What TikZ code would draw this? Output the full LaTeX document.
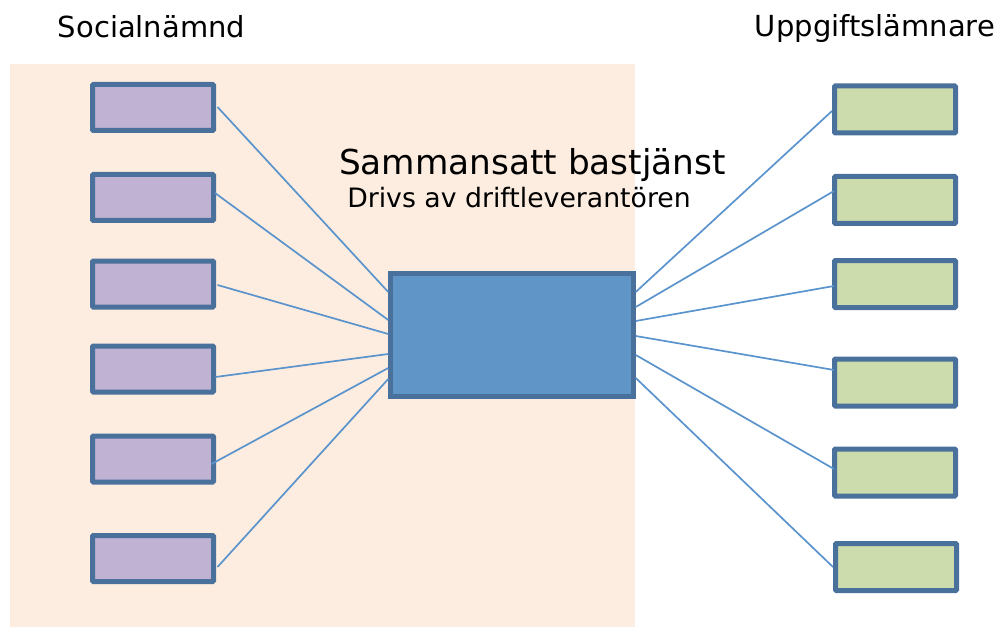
\documentclass[tikz,border=0pt]{standalone}
\usepackage{fontspec}
\setmainfont{DejaVu Sans}
\usepackage{tikz}
\usetikzlibrary{positioning}

\definecolor{peach}{HTML}{FDEDE0}
\definecolor{frameblue}{HTML}{4A709C}
\definecolor{lilac}{HTML}{C0B2D2}
\definecolor{sage}{HTML}{CDDCAC}
\definecolor{hubblue}{HTML}{5F95C7}
\definecolor{wireblue}{HTML}{5B93CC}

\begin{document}
\begin{tikzpicture}[x=1pt,y=-1pt]
\tikzstyle{box}=[draw=frameblue, line width=5pt, rounded corners=1pt, inner sep=0pt,
minimum width=121pt, minimum height=46pt]
\tikzstyle{soc}=[box, fill=lilac]
\tikzstyle{upp}=[box, fill=sage, minimum height=47pt]
\tikzstyle{hub}=[draw=frameblue, line width=4.5pt, fill=hubblue, inner sep=0pt,
minimum width=243pt, minimum height=123pt]
\tikzstyle{wire}=[draw=wireblue, line width=1.7pt]
\tikzstyle{head}=[anchor=base, inner sep=0pt, font=\fontsize{29}{34}\selectfont]

\useasboundingbox (0,0) rectangle (1000,628);
\fill[peach] (10,64) rectangle (635,627);

% titles
\node (socialtitle) [head] at (151.5,38) {Socialnämnd};
\node (upptitle) [head] at (875,37) {Uppgiftslämnare};
\node (hubtitle) [anchor=base, inner sep=0pt, font=\fontsize{34.3}{40}\selectfont] at (532.5,175) {Sammansatt bastjänst};
\node (hubsub) [anchor=base, inner sep=0pt, font=\fontsize{26.7}{32}\selectfont] at (519,208) {Drivs av driftleverantören};

% central service
\node (hub) [hub] at (512,335) {};

% social committees
\node (s1) [soc] at (153,107.5) {};
\node (s2) [soc] at (153,197.5) {};
\node (s3) [soc] at (153,284) {};
\node (s4) [soc] at (153,369) {};
\node (s5) [soc] at (153,459) {};
\node (s6) [soc] at (153,558.5) {};

% data providers
\node (u1) [upp] at (895,109.5) {};
\node (u2) [upp] at (895,200) {};
\node (u3) [upp] at (895,284) {};
\node (u4) [upp] at (895,382.5) {};
\node (u5) [upp] at (895,472.5) {};
\node (u6) [upp] at (896,567) {};

% connectors, left
\path [wire] ([xshift=1.5pt,yshift=0.5pt]s1.east) -- ([yshift=43pt]hub.west);
\path [wire] ([xshift=-1pt,yshift=4.5pt]s2.east) -- ([yshift=15pt]hub.west);
\path [wire] ([xshift=1.5pt,yshift=-1pt]s3.east) -- ([yshift=1pt]hub.west);
\path [wire] ([xshift=-0.5pt,yshift=-8pt]s4.east) -- ([yshift=-19pt]hub.west);
\path [wire] ([xshift=-4.5pt,yshift=-5pt]s5.east) -- ([yshift=-33pt]hub.west);
\path [wire] ([xshift=1.5pt,yshift=-8.5pt]s6.east) -- ([yshift=-44pt]hub.west);

% connectors, right
\path [wire] ([yshift=43pt]hub.east) -- ([xshift=0pt,yshift=-1.5pt]u1.west);
\path [wire] ([yshift=28pt]hub.east) -- ([xshift=2pt,yshift=9pt]u2.west);
\path [wire] ([yshift=14pt]hub.east) -- ([xshift=2pt,yshift=-2pt]u3.west);
\path [wire] ([yshift=-1pt]hub.east) -- ([xshift=2pt,yshift=12.5pt]u4.west);
\path [wire] ([yshift=-20pt]hub.east) -- ([xshift=2pt,yshift=3.5pt]u5.west);
\path [wire] ([yshift=-43pt]hub.east) -- ([xshift=0pt,yshift=0pt]u6.west);
\end{tikzpicture}
\end{document}
